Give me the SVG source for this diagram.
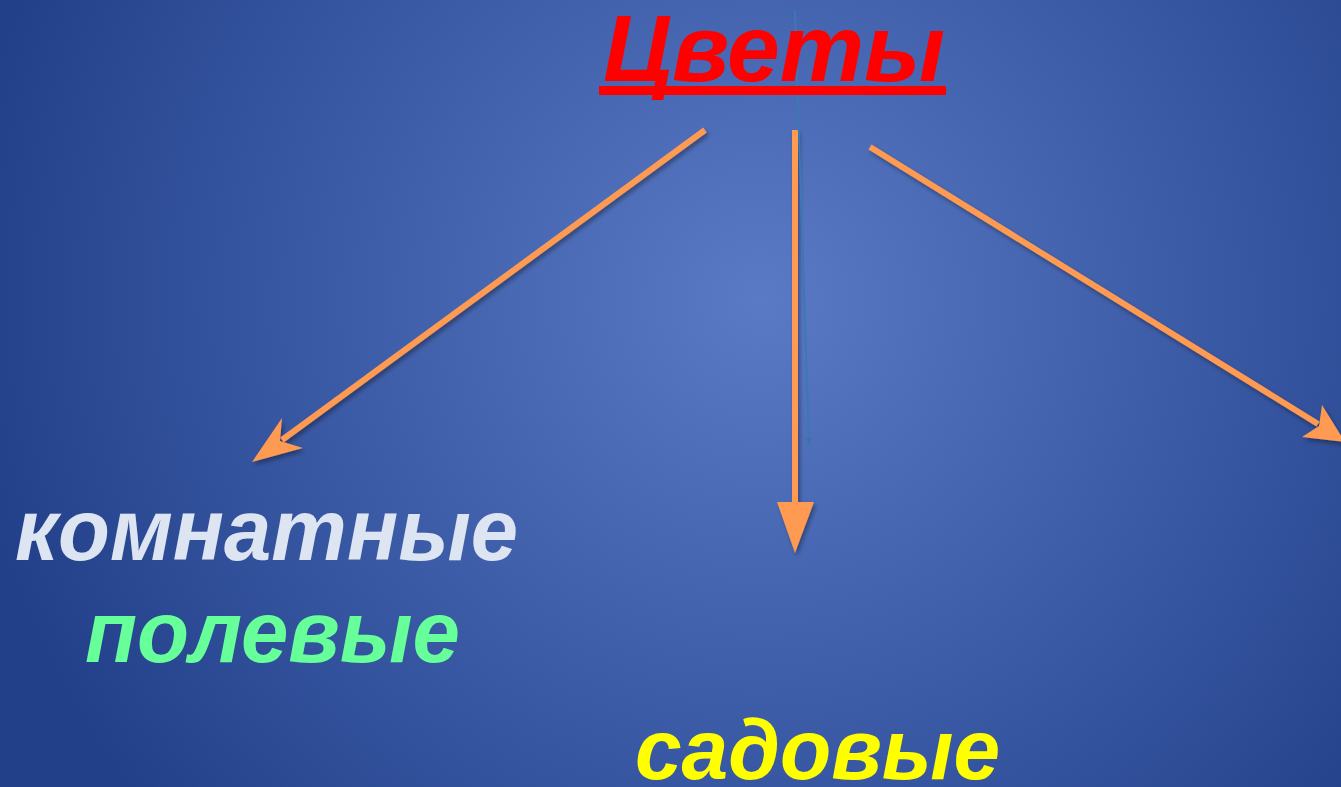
<svg xmlns="http://www.w3.org/2000/svg" width="1341" height="787" viewBox="0 0 1341 787">
<defs>
<radialGradient id="bg" cx="760" cy="300" r="800" gradientUnits="userSpaceOnUse">
<stop offset="0" stop-color="#5a7ac6"/>
<stop offset="1" stop-color="#22408a"/>
</radialGradient>
<filter id="sh" x="-10%" y="-10%" width="120%" height="120%">
<feDropShadow dx="2" dy="3" stdDeviation="2" flood-color="#000" flood-opacity="0.35"/>
</filter>
<marker id="thin" markerWidth="8" markerHeight="8" refX="7" refY="4" orient="auto" markerUnits="userSpaceOnUse">
<path d="M0,1 L7,4 L0,7 Z" fill="#3b72a8"/>
</marker>
</defs>
<style>
.lbl{font-family:"Liberation Sans",Arial,sans-serif;font-weight:bold;font-style:italic}
.arr{stroke:#ff9a52;stroke-width:6;fill:none}
.head{fill:#ff9a52}
</style>
<rect width="1341" height="787" fill="url(#bg)"/>
<g id="connectors">
<g filter="url(#sh)">
<line class="arr" x1="705" y1="130" x2="282" y2="440"/>
<polygon class="head" points="252,462 282,418 280,441 303,448"/>
<line class="arr" x1="795" y1="130" x2="795" y2="505"/>
<polygon class="head" points="777,502 814,502 795,553"/>
<line class="arr" x1="870" y1="147" x2="1318" y2="424"/>
<polygon class="head" points="1345,442 1322,405 1319,426 1302,437"/>
</g>
<line x1="795" y1="10" x2="809" y2="445" stroke="#3d78b2" stroke-width="2" marker-end="url(#thin)"/>
</g>
<g id="title">
<text class="lbl" x="603" y="81" font-size="95" fill="#ff0000" textLength="342" lengthAdjust="spacingAndGlyphs">Цветы</text>
<rect x="599" y="86" width="347" height="9" fill="#ff0000"/>
</g>
<g id="komnatnye">
<text class="lbl" x="15" y="560" font-size="87" fill="#dce5f1" textLength="503" lengthAdjust="spacingAndGlyphs">комнатные</text>
</g>
<g id="polevye">
<text class="lbl" x="85" y="662" font-size="87" fill="#66ff99" textLength="375" lengthAdjust="spacingAndGlyphs">полевые</text>
</g>
<g id="sadovye">
<text class="lbl" x="635" y="779" font-size="85" fill="#ffff00" textLength="365" lengthAdjust="spacingAndGlyphs">садовые</text>
</g>
</svg>
